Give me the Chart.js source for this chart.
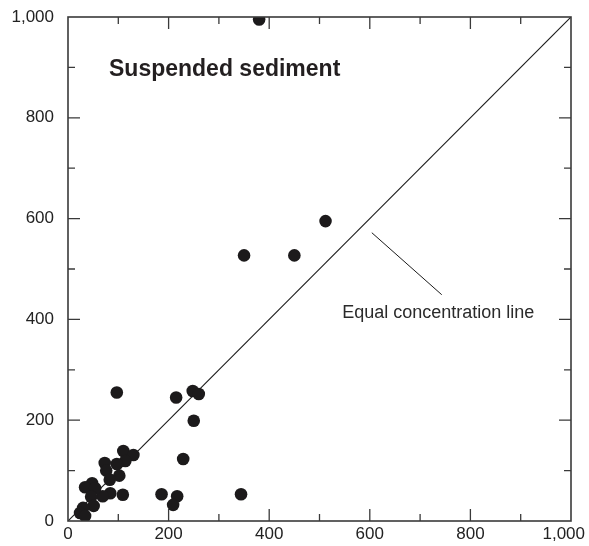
<!DOCTYPE html>
<html>
<head>
<meta charset="utf-8">
<script src="https://cdn.jsdelivr.net/npm/chart.js@4"></script>
<style>
html,body{margin:0;padding:0;background:#fff;}
#wrap{width:589px;height:546px;position:relative;}
</style>
</head>
<body>
<div id="wrap"><canvas id="c" width="589" height="546"></canvas></div>
<script>
// Data
const sampleX = [380, 512, 450, 350, 97, 215, 248, 260, 250, 229, 186, 217, 209, 344,
  110, 130, 114, 97, 73, 76, 102, 83, 84, 69, 109, 48, 34, 54, 46, 51, 30, 24, 34];
const sampleY = [995, 595, 527, 527, 255, 245, 258, 252, 199, 123, 53, 49, 32, 53,
  139, 131, 119, 113, 115, 100, 90, 82, 55, 49, 52, 75, 67, 65, 48, 30, 26, 16, 10];
const equalLineX = [0, 1000];
const equalLineY = [0, 1000];
const leaderX = [604, 743];
const leaderY = [572, 449];
const tickValues = [0, 200, 400, 600, 800, 1000];
const tickLabels = ['0', '200', '400', '600', '800', '1,000'];
const minorTickValues = [100, 300, 500, 700, 900];
const titleText = 'Suspended sediment';
const lineLabel = 'Equal concentration line';
const labelAt = {x: 740, y: 405};

const FONT = '"Liberation Sans", Arial, Helvetica, sans-serif';

const points = sampleX.map((x, i) => ({x: x, y: sampleY[i]}));
const eqLine = equalLineX.map((x, i) => ({x: x, y: equalLineY[i]}));
const leader = leaderX.map((x, i) => ({x: x, y: leaderY[i]}));

const framePlugin = {
  id: 'frame',
  afterDatasetsDraw(chart) {
    const ctx = chart.ctx;
    const a = chart.chartArea;
    const xs = chart.scales.x, ys = chart.scales.y;
    ctx.save();
    ctx.strokeStyle = '#3a3a3a';
    ctx.lineWidth = 1.6;
    ctx.strokeRect(a.left, a.top, a.right - a.left, a.bottom - a.top);
    ctx.lineWidth = 1.3;
    ctx.beginPath();
    const drawTicks = (vals, len) => {
      vals.forEach(v => {
        if (v <= 0 || v >= 1000) return;
        const px = xs.getPixelForValue(v);
        ctx.moveTo(px, a.bottom); ctx.lineTo(px, a.bottom - len);
        ctx.moveTo(px, a.top); ctx.lineTo(px, a.top + len);
        const py = ys.getPixelForValue(v);
        ctx.moveTo(a.left, py); ctx.lineTo(a.left + len, py);
        ctx.moveTo(a.right, py); ctx.lineTo(a.right - len, py);
      });
    };
    drawTicks(tickValues, 12);
    drawTicks(minorTickValues, 7);
    ctx.stroke();
    // x-axis tick labels (last one kept inside the canvas, as in the reference)
    ctx.fillStyle = '#222';
    ctx.font = '17px ' + FONT;
    ctx.textBaseline = 'middle';
    tickValues.forEach((v, i) => {
      const last = i === tickValues.length - 1;
      ctx.textAlign = last ? 'right' : 'center';
      const px = xs.getPixelForValue(v) + (last ? 14 : 0);
      ctx.fillText(tickLabels[i], px, a.bottom + 13);
    });
    // texts
    ctx.fillStyle = '#231f20';
    ctx.font = 'bold 23px ' + FONT;
    ctx.textAlign = 'left';
    ctx.textBaseline = 'alphabetic';
    ctx.fillText(titleText, a.left + 41, a.top + 59);
    ctx.font = '18px ' + FONT;
    ctx.textAlign = 'center';
    ctx.fillStyle = '#2a2a2a';
    ctx.fillText(lineLabel, xs.getPixelForValue(labelAt.x) - 2, ys.getPixelForValue(labelAt.y) + 1);
    ctx.restore();
  }
};

function zeroPad(s) { s.paddingLeft = 0; s.paddingRight = 0; s.paddingTop = 0; s.paddingBottom = 0; }

new Chart(document.getElementById('c'), {
  type: 'scatter',
  data: {
    datasets: [
      {
        type: 'scatter',
        data: points,
        backgroundColor: '#1c1a1b',
        borderColor: '#1c1a1b',
        pointRadius: 6.3,
        pointHoverRadius: 6.3,
        borderWidth: 0,
        order: 0
      },
      {
        type: 'line',
        data: eqLine,
        borderColor: '#1a1a1a',
        borderWidth: 1.1,
        pointRadius: 0,
        fill: false,
        order: 1
      },
      {
        type: 'line',
        data: leader,
        borderColor: '#1a1a1a',
        borderWidth: 1,
        pointRadius: 0,
        fill: false,
        order: 1
      }
    ]
  },
  options: {
    responsive: false,
    animation: false,
    events: [],
    layout: {padding: {left: 0, right: 18, top: 17, bottom: 0}},
    plugins: {legend: {display: false}, tooltip: {enabled: false}, title: {display: false}},
    scales: {
      x: {
        type: 'linear', min: 0, max: 1000,
        grid: {display: false, drawTicks: false},
        border: {display: false},
        afterFit(s) { s.height = 25; zeroPad(s); },
        afterBuildTicks(s) { s.ticks = tickValues.map(v => ({value: v})); },
        ticks: {display: false}
      },
      y: {
        type: 'linear', min: 0, max: 1000,
        grid: {display: false, drawTicks: false},
        border: {display: false},
        afterFit(s) { s.width = 68; zeroPad(s); },
        afterBuildTicks(s) { s.ticks = tickValues.map(v => ({value: v})); },
        ticks: {
          padding: 14,
          color: '#222',
          font: {family: FONT, size: 17},
          autoSkip: false,
          callback: (v) => tickLabels[tickValues.indexOf(v)]
        }
      }
    }
  },
  plugins: [framePlugin]
});
</script>
</body>
</html>
